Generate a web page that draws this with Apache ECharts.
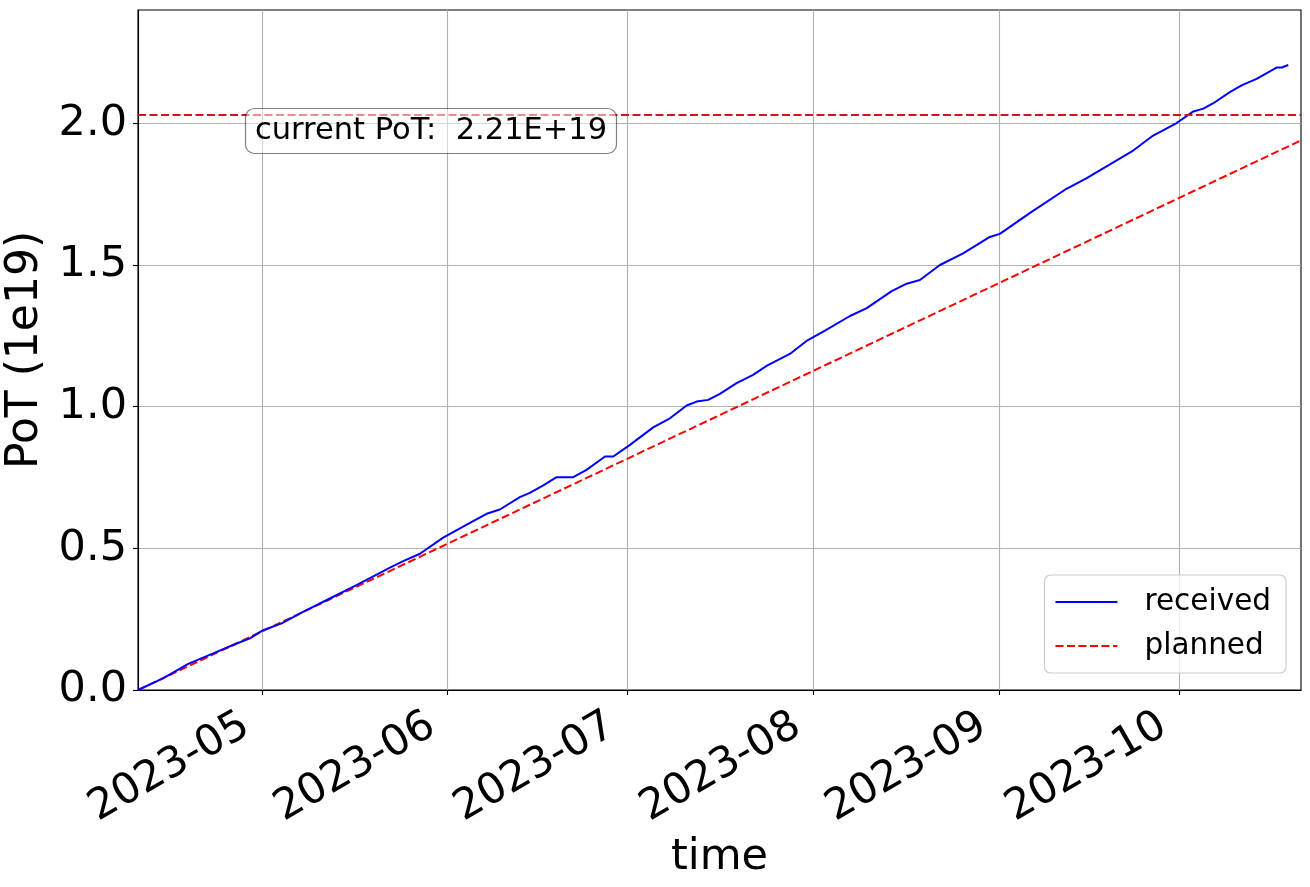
<!DOCTYPE html>
<html>
<head>
<meta charset="utf-8">
<script src="https://cdn.jsdelivr.net/npm/echarts@6/dist/echarts.min.js"></script>
<style>
html,body{margin:0;padding:0;background:#fff;}
#chart{width:1310px;height:887px;}
</style>
</head>
<body>
<div id="chart"></div>
<script>
// ---- data ----
const receivedTimes = [
  "2023-04-10T08:00","2023-04-14T12:00","2023-04-18T17:00","2023-04-22T21:00","2023-04-26T19:00",
  "2023-04-29T00:00","2023-05-01T05:00","2023-05-04T07:00","2023-05-07T21:00","2023-05-12T08:00",
  "2023-05-16T19:00","2023-05-22T09:00","2023-05-24T14:00","2023-05-27T09:00","2023-05-31T06:00",
  "2023-06-05T06:00","2023-06-07T12:00","2023-06-09T17:00","2023-06-13T01:00","2023-06-14T17:00",
  "2023-06-16T23:00","2023-06-19T04:00","2023-06-21T23:00","2023-06-24T04:00","2023-06-27T06:00",
  "2023-06-28T15:00","2023-07-01T10:00","2023-07-05T07:00","2023-07-08T02:00","2023-07-10T21:00",
  "2023-07-12T13:00","2023-07-14T11:00","2023-07-16T10:00","2023-07-19T05:00","2023-07-21T23:00",
  "2023-07-24T05:00","2023-07-28T02:00","2023-07-30T21:00","2023-08-02T16:00","2023-08-07T03:00",
  "2023-08-09T22:00","2023-08-14T02:00","2023-08-16T14:00","2023-08-18T19:00","2023-08-22T03:00",
  "2023-08-26T00:00","2023-08-30T11:00","2023-09-01T03:00","2023-09-06T04:00","2023-09-12T06:00",
  "2023-09-15T15:00","2023-09-19T12:00","2023-09-23T09:00","2023-09-26T17:00","2023-09-30T15:00",
  "2023-10-03T10:00","2023-10-05T02:00","2023-10-06T18:00","2023-10-09T12:00","2023-10-11T11:00",
  "2023-10-13T23:00","2023-10-17T07:00","2023-10-18T04:00","2023-10-19T06:00"
];
const receivedValues = [
  0.000,0.041,0.092,0.129,0.164,
  0.182,0.211,0.235,0.276,0.323,
  0.370,0.432,0.455,0.481,0.538,
  0.596,0.622,0.637,0.681,0.696,
  0.722,0.751,0.751,0.777,0.824,
  0.824,0.865,0.927,0.959,1.004,
  1.018,1.024,1.045,1.083,1.112,
  1.144,1.186,1.232,1.265,1.320,
  1.348,1.408,1.434,1.447,1.500,
  1.541,1.599,1.610,1.684,1.769,
  1.807,1.855,1.904,1.957,2.001,
  2.042,2.052,2.071,2.110,2.134,
  2.157,2.197,2.197,2.206
];
const plannedTimes = ["2023-04-10T08:00","2023-10-21T09:00"];
const plannedValues = [0.0, 1.94];
const targetLevel = 2.03;
const currentPoT = "2.21E+19";
const xMin = "2023-04-10T08:00";
const xMax = "2023-10-21T09:00";
const xTickDates = ["2023-05-01","2023-06-01","2023-07-01","2023-08-01","2023-09-01","2023-10-01"];
const yTicks = [0.0, 0.5, 1.0, 1.5, 2.0];
const yMax = 2.4;

// ---- chart ----
const FONT = "DejaVu Sans";
const toTs = s => new Date(s.length === 10 ? s + "T00:00" : s).getTime();
const received = receivedTimes.map((t, i) => [toTs(t), receivedValues[i]]);
const planned = plannedTimes.map((t, i) => [toTs(t), plannedValues[i]]);
const xTickTs = xTickDates.map(toTs);
const fmtMonth = v => {
  const d = new Date(v);
  return d.getFullYear() + '-' + String(d.getMonth() + 1).padStart(2, '0');
};

const chart = echarts.init(document.getElementById('chart'), null, {renderer: 'canvas'});
chart.setOption({
  animation: false,
  backgroundColor: '#ffffff',
  textStyle: {fontFamily: FONT},
  grid: {left: 138, top: 10, right: 9, bottom: 197, show: true, borderColor: '#000', borderWidth: 1.1,
         containLabel: false, outerBoundsMode: 'none'},
  title: {
    text: 'current PoT:  ' + currentPoT,
    left: 245, top: 108,
    padding: [5, 10, 5, 10],
    borderRadius: 9,
    borderColor: 'rgba(0,0,0,0.5)',
    borderWidth: 1.2,
    backgroundColor: 'rgba(255,255,255,0.5)',
    textStyle: {fontFamily: FONT, fontSize: 30.5, fontWeight: 'normal', color: '#000', lineHeight: 36}
  },
  legend: {
    orient: 'vertical',
    right: 24, bottom: 214,
    padding: [12, 15, 12, 10],
    itemWidth: 62, itemHeight: 14, itemGap: 14,
    borderColor: '#cccccc', borderWidth: 1.2, borderRadius: 6,
    backgroundColor: 'rgba(255,255,255,0.8)',
    itemStyle: {opacity: 0},
    textStyle: {fontFamily: FONT, fontSize: 29.5, color: '#000', padding: [0, 0, 0, 22]},
    data: ['received', 'planned']
  },
  xAxis: {
    type: 'value',
    min: toTs(xMin), max: toTs(xMax),
    name: 'time', nameLocation: 'middle', nameGap: 146,
    nameTextStyle: {fontFamily: FONT, fontSize: 43, color: '#000'},
    axisLine: {show: true, lineStyle: {color: '#000', width: 1.1}},
    axisTick: {show: true, length: 5, lineStyle: {color: '#000', width: 1.1}, customValues: xTickTs},
    axisLabel: {
      customValues: xTickTs,
      rotate: 30, margin: 24,
      fontFamily: FONT, fontSize: 42.5, color: '#000',
      padding: [0, 18, 0, 0],
      formatter: fmtMonth
    },
    splitLine: {show: true, lineStyle: {color: '#b0b0b0', width: 1.1}}
  },
  yAxis: {
    type: 'value', min: 0, max: yMax,
    name: 'PoT (1e19)', nameLocation: 'middle', nameGap: 84,
    nameTextStyle: {fontFamily: FONT, fontSize: 44, color: '#000'},
    axisLine: {show: true, lineStyle: {color: '#000', width: 1.1}},
    axisTick: {show: true, length: 5, lineStyle: {color: '#000', width: 1.1}, customValues: yTicks},
    axisLabel: {
      customValues: yTicks, margin: 11,
      fontFamily: FONT, fontSize: 43, color: '#000',
      formatter: v => Number(v).toFixed(1)
    },
    splitLine: {show: true, lineStyle: {color: '#b0b0b0', width: 1.1}}
  },
  series: [
    {
      name: 'received', type: 'line', data: received,
      symbol: 'none', smooth: false,
      lineStyle: {color: '#0000ff', width: 2},
      itemStyle: {color: '#0000ff'},
      z: 3
    },
    {
      name: 'planned', type: 'line', data: planned,
      symbol: 'none',
      lineStyle: {color: '#ff0000', width: 2, type: [8, 3.5]},
      itemStyle: {color: '#ff0000'},
      z: 2,
      markLine: {
        silent: true, symbol: ['none', 'none'],
        label: {show: false},
        lineStyle: {color: '#d01818', width: 2, type: [8, 3.5]},
        data: [{yAxis: targetLevel}]
      }
    }
  ]
});
</script>
</body>
</html>
